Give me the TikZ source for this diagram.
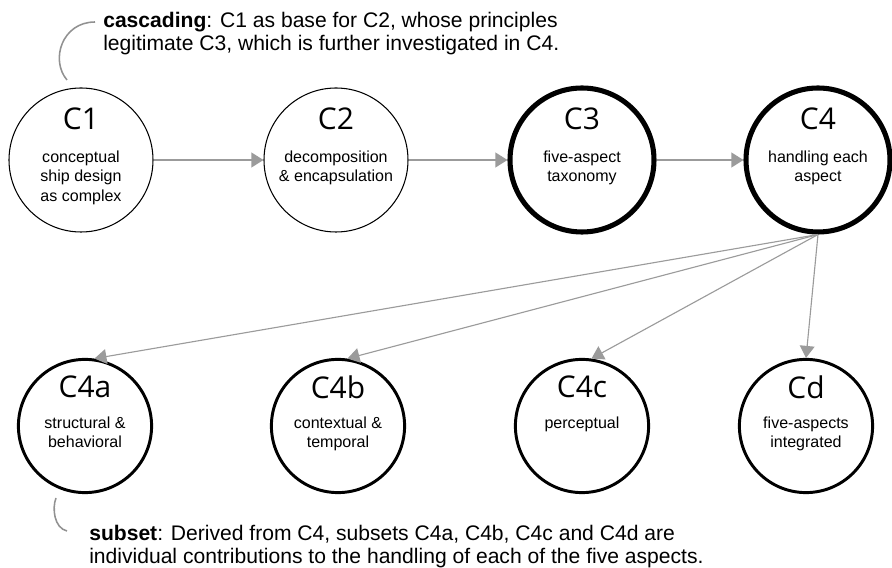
\documentclass[tikz,border=0pt]{standalone}
\usepackage{fontspec}
\setmainfont{Liberation Sans}
\newfontfamily\numfont{Open Sans}
\usetikzlibrary{arrows.meta, positioning, calc}
\definecolor{flowgray}{RGB}{155,155,155}
\definecolor{bracegray}{RGB}{145,145,145}
\tikzset{
  contrib/.style    = {circle, draw=black, fill=white, minimum size=3.6cm, inner sep=0pt, line width=0.75pt},
  contribkey/.style = {contrib, line width=3.6pt},
  subcontrib/.style = {circle, draw=black, fill=white, minimum size=3.33cm, inner sep=0pt, line width=2.1pt},
  cnum/.style       = {inner sep=0pt, font=\numfont\fontsize{21.3}{24}\selectfont},
  cdesc/.style      = {inner sep=0pt, anchor=north, align=center, font=\fontsize{11.4}{13.9}\selectfont},
  note/.style       = {inner sep=0pt, anchor=north west, align=left, font=\fontsize{15}{16}\selectfont},
  flow/.style       = {-{Triangle[length=0.3cm, width=0.37cm]}, flowgray, line width=0.8pt},
  brace/.style      = {bracegray, line width=1.1pt},
}

\begin{document}
\begin{tikzpicture}
  \useasboundingbox (0,0) rectangle (22.3,14.2);

  % main line of contributions
  \node[contrib]    (c1) at (2.025,10.2) {};
  \node[contrib]    (c2) at (8.4,10.2)   {};
  \node[contribkey] (c3) at (14.55,10.2) {};
  \node[contribkey] (c4) at (20.45,10.2) {};

  \node[cnum]  (c1t) at ([yshift=1.025cm]c1.center) {C1};
  \node[cdesc] (c1d) at ([yshift=0.24cm]c1.center)  {conceptual\\ship design\\as complex};
  \node[cnum]  (c2t) at ([yshift=1.025cm]c2.center) {C2};
  \node[cdesc] (c2d) at ([yshift=0.24cm]c2.center)  {decomposition\\\& encapsulation};
  \node[cnum]  (c3t) at ([yshift=1.025cm]c3.center) {C3};
  \node[cdesc] (c3d) at ([yshift=0.24cm]c3.center)  {five-aspect\\taxonomy};
  \node[cnum]  (c4t) at ([yshift=1.025cm]c4.center) {C4};
  \node[cdesc] (c4d) at ([yshift=0.24cm]c4.center)  {handling each\\aspect};

  \draw[flow] (c1) -- (c2);
  \draw[flow] (c2) -- (c3);
  \draw[flow] (c3) -- (c4);

  % subsets of C4
  \node[subcontrib] (c4a) at (2.125,3.55) {};
  \node[subcontrib] (c4b) at (8.45,3.55)  {};
  \node[subcontrib] (c4c) at (14.55,3.55) {};
  \node[subcontrib] (cd)  at (20.15,3.55) {};

  \node[cnum]  (c4at) at ([yshift=0.975cm]c4a.center) {C4a};
  \node[cdesc] (c4ad) at ([yshift=0.24cm]c4a.center)  {structural \&\\behavioral};
  \node[cnum]  (c4bt) at ([yshift=0.975cm]c4b.center) {C4b};
  \node[cdesc] (c4bd) at ([yshift=0.24cm]c4b.center)  {contextual \&\\temporal};
  \node[cnum]  (c4ct) at ([yshift=0.975cm]c4c.center) {C4c};
  \node[cdesc] (c4cd) at ([yshift=0.24cm]c4c.center)  {perceptual};
  \node[cnum]  (cdt)  at ([yshift=0.975cm]cd.center)  {Cd};
  \node[cdesc] (cdd)  at ([yshift=0.24cm]cd.center)   {five-aspects\\integrated};

  \draw[flow] (c4.south) -- (c4a.82);
  \draw[flow] (c4.south) -- (c4b.82);
  \draw[flow] (c4.south) -- (c4c.82);
  \draw[flow] (c4.south) -- (cd.north);

  % annotations
  \node[note] (cascnote) at (2.575,13.89)
    {\textbf{cascading}: C1 as base for C2, whose principles\\legitimate C3, which is further investigated in C4.};
  \coordinate (casc-a) at (2.375,13.65);
  \coordinate (casc-b) at (1.675,12.2);
  \draw[brace] (casc-a) .. controls (1.55,13.65) and (1.25,12.7) .. (casc-b);

  \node[note] (subnote) at (2.225,1.075)
    {\textbf{subset}: Derived from C4, subsets C4a, C4b, C4c and C4d are\\individual contributions to the handling of each of the five aspects.};
  \coordinate (sub-a) at (1.4,1.75);
  \coordinate (sub-b) at (1.675,0.925);
  \draw[brace] (sub-a) .. controls (1.3,1.5) and (1.35,1.0) .. (sub-b);
\end{tikzpicture}
\end{document}
